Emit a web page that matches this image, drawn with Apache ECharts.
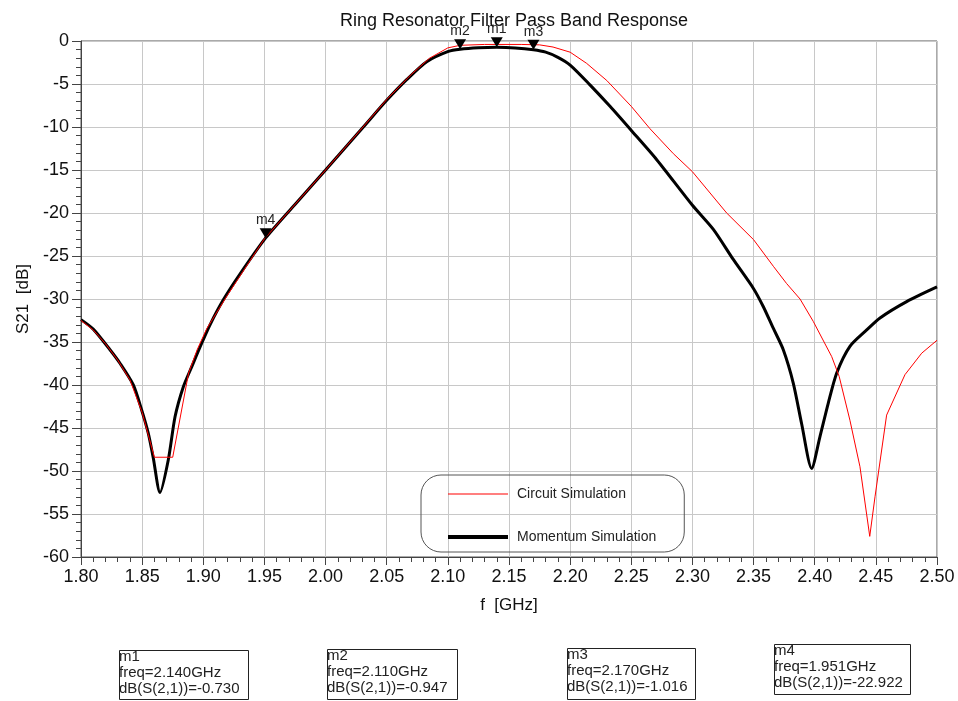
<!DOCTYPE html>
<html>
<head>
<meta charset="utf-8">
<title>Ring Resonator Filter Pass Band Response</title>
<script src="https://cdn.jsdelivr.net/npm/echarts@6/dist/echarts.min.js"></script>
<style>
html,body{margin:0;padding:0;background:#fff;}
#main{width:958px;height:701px;}
</style>
</head>
<body>
<div id="main"></div>
<script>
// freq in GHz, S21 in dB
var circuitFreq = [1.800, 1.810, 1.820, 1.830, 1.840, 1.850, 1.860, 1.875, 1.888, 1.895, 1.903, 1.920, 1.950, 2.000, 2.030, 2.050, 2.070, 2.085, 2.100, 2.110, 2.130, 2.160, 2.175, 2.186, 2.200, 2.2135, 2.230, 2.250, 2.2653, 2.2844, 2.300, 2.328, 2.350, 2.3662, 2.377, 2.388, 2.3988, 2.4139, 2.420, 2.4288, 2.437, 2.445, 2.4493, 2.4588, 2.4738, 2.4875, 2.500];
var circuitDb = [-32.5, -33.6, -35.2, -37.1, -39.4, -43.2, -48.4, -48.4, -38.6, -35.9, -33.4, -29.5, -23.0, -15.0, -10.1, -6.8, -3.9, -2.0, -0.8, -0.5, -0.4, -0.4, -0.45, -0.7, -1.3, -2.6, -4.6, -7.6, -10.2, -13.1, -15.2, -20.0, -23.1, -26.2, -28.2, -30.0, -32.6, -36.7, -39.0, -44.1, -49.5, -57.6, -53.0, -43.5, -38.8, -36.3, -34.8];

var momentumFreq = [1.800, 1.810, 1.8237, 1.832, 1.8428, 1.8496, 1.855, 1.859, 1.8646, 1.8714, 1.8769, 1.8837, 1.8905, 1.8973, 1.9055, 1.9164, 1.930, 1.951, 1.975, 2.000, 2.0309, 2.050, 2.0663, 2.0827, 2.1004, 2.110, 2.125, 2.140, 2.155, 2.170, 2.180, 2.190, 2.200, 2.2162, 2.2326, 2.250, 2.2708, 2.300, 2.3171, 2.3334, 2.350, 2.358, 2.3661, 2.3743, 2.3825, 2.3893, 2.3975, 2.4043, 2.4111, 2.418, 2.4288, 2.4425, 2.4534, 2.4752, 2.500];
var momentumDb = [-32.4, -33.5, -35.9, -37.5, -40.0, -42.9, -45.6, -48.4, -52.5, -48.7, -43.7, -40.2, -37.9, -35.6, -33.0, -30.1, -27.1, -22.9, -19.0, -15.0, -10.0, -6.9, -4.5, -2.4, -1.2, -0.947, -0.78, -0.73, -0.8, -1.016, -1.3, -1.9, -2.8, -5.1, -7.6, -10.4, -13.8, -19.1, -21.9, -25.4, -28.8, -30.9, -33.4, -35.9, -39.8, -44.5, -49.7, -46.0, -42.1, -38.6, -35.5, -33.6, -32.2, -30.3, -28.6];

var markerNames = ['m1', 'm2', 'm3', 'm4'];
var markerFreq = [2.140, 2.110, 2.170, 1.951];
var markerDb = [-0.730, -0.947, -1.016, -22.922];

var seriesNames = ['Circuit Simulation', 'Momentum Simulation'];

function pairs(xs, ys){
	var out = [];
	for (var i = 0; i < xs.length; i ++) {
		out.push([xs[i], ys[i]]);
	}
	return out;
}

var markPts = [];
for (var i = 0; i < markerNames.length; i ++) {
	markPts.push({name: markerNames[i], coord: [markerFreq[i], markerDb[i]]});
}

// readout boxes under the chart
var boxes = [[117, 648, 129, 49], [325, 647, 130, 50], [565, 646, 128, 51], [772, 642, 136, 50]];
var graphics = [];
for (var i = 0; i < markerNames.length; i ++) {
	var b = boxes[i];
	graphics.push({
		type: 'rect', left: b[0], top: b[1],
		shape: {width: b[2], height: b[3]},
		style: {fill: 'none', stroke: '#222', lineWidth: 1}
	});
	graphics.push({
		type: 'text', left: b[0] + 2, top: b[1] + 1,
		style: {
			text: markerNames[i] + '\nfreq=' + markerFreq[i].toFixed(3) + 'GHz\ndB(S(2,1))=' + markerDb[i].toFixed(3),
			font: '15px "Liberation Sans", Arial, sans-serif',
			lineHeight: 16, fill: '#222'
		}
	});
}

var chart = echarts.init(document.getElementById('main'));
var font = '"Liberation Sans", Arial, sans-serif';
var option = {
	animation: false,
	backgroundColor: '#fff',
	title: {
		text: 'Ring Resonator Filter Pass Band Response',
		left: 509, top: 7, textAlign: 'center',
		textStyle: {fontFamily: font, fontSize: 18, fontWeight: 'normal', color: '#111'}
	},
	grid: {left: 81, right: 21, top: 41, bottom: 144, show: true, borderColor: '#555', borderWidth: 1},
	legend: {
		orient: 'vertical', left: 421, top: 475,
		// the M points only pad the icon box so the bar keeps its thickness
		data: [
			{name: seriesNames[0], icon: 'path://M0,0 M60,14 M0,6.5 L60,6.5 L60,7.5 L0,7.5 Z'},
			{name: seriesNames[1], icon: 'path://M0,0 M60,14 M0,5 L60,5 L60,9 L0,9 Z'}
		],
		itemWidth: 60, itemHeight: 14, itemGap: 29,
		padding: [12, 28, 8, 27],
		borderColor: '#555', borderWidth: 1, borderRadius: 20,
		textStyle: {fontFamily: font, fontSize: 14, color: '#222', padding: [0, 0, 0, 4]}
	},
	xAxis: {
		type: 'value', min: 1.8, max: 2.5, interval: 0.05,
		name: 'f  [GHz]', nameLocation: 'middle', nameGap: 40,
		nameTextStyle: {fontFamily: font, fontSize: 17, color: '#111'},
		axisLine: {onZero: false, lineStyle: {color: '#444'}},
		axisTick: {length: 8, lineStyle: {color: '#444'}},
		minorTick: {show: true, splitNumber: 5, length: 5, lineStyle: {color: '#444'}},
		axisLabel: {fontFamily: font, fontSize: 18, color: '#111', margin: 11, formatter: function(v){ return v.toFixed(2); }},
		splitLine: {show: true, lineStyle: {color: '#c8c8c8'}}
	},
	yAxis: {
		type: 'value', min: -60, max: 0, interval: 5,
		name: 'S21  [dB]', nameLocation: 'middle', nameGap: 47,
		nameTextStyle: {fontFamily: font, fontSize: 17, color: '#111'},
		axisLine: {onZero: false, lineStyle: {color: '#444'}},
		axisTick: {length: 9, lineStyle: {color: '#444'}},
		minorTick: {show: true, splitNumber: 5, length: 5, lineStyle: {color: '#444'}},
		axisLabel: {fontFamily: font, fontSize: 18, color: '#111', margin: 12},
		splitLine: {show: true, lineStyle: {color: '#c8c8c8'}}
	},
	series: [
		{
			name: seriesNames[0], type: 'line', symbol: 'none',
			data: pairs(circuitFreq, circuitDb),
			lineStyle: {color: '#ff0000', width: 1},
			itemStyle: {color: '#ff0000'},
			z: 3
		},
		{
			name: seriesNames[1], type: 'line', symbol: 'none', smooth: 0.25,
			data: pairs(momentumFreq, momentumDb),
			lineStyle: {color: '#000', width: 3},
			itemStyle: {color: '#000'},
			z: 2,
			markPoint: {
				symbol: 'path://M0,0 L12,0 L6,10 Z',
				symbolSize: [12, 10],
				symbolOffset: [0, -5],
				itemStyle: {color: '#000'},
				label: {show: true, position: 'top', distance: 1, formatter: '{b}', fontFamily: font, fontSize: 14, color: '#222'},
				data: markPts
			}
		}
	],
	graphic: graphics
};
chart.setOption(option);
</script>
</body>
</html>
